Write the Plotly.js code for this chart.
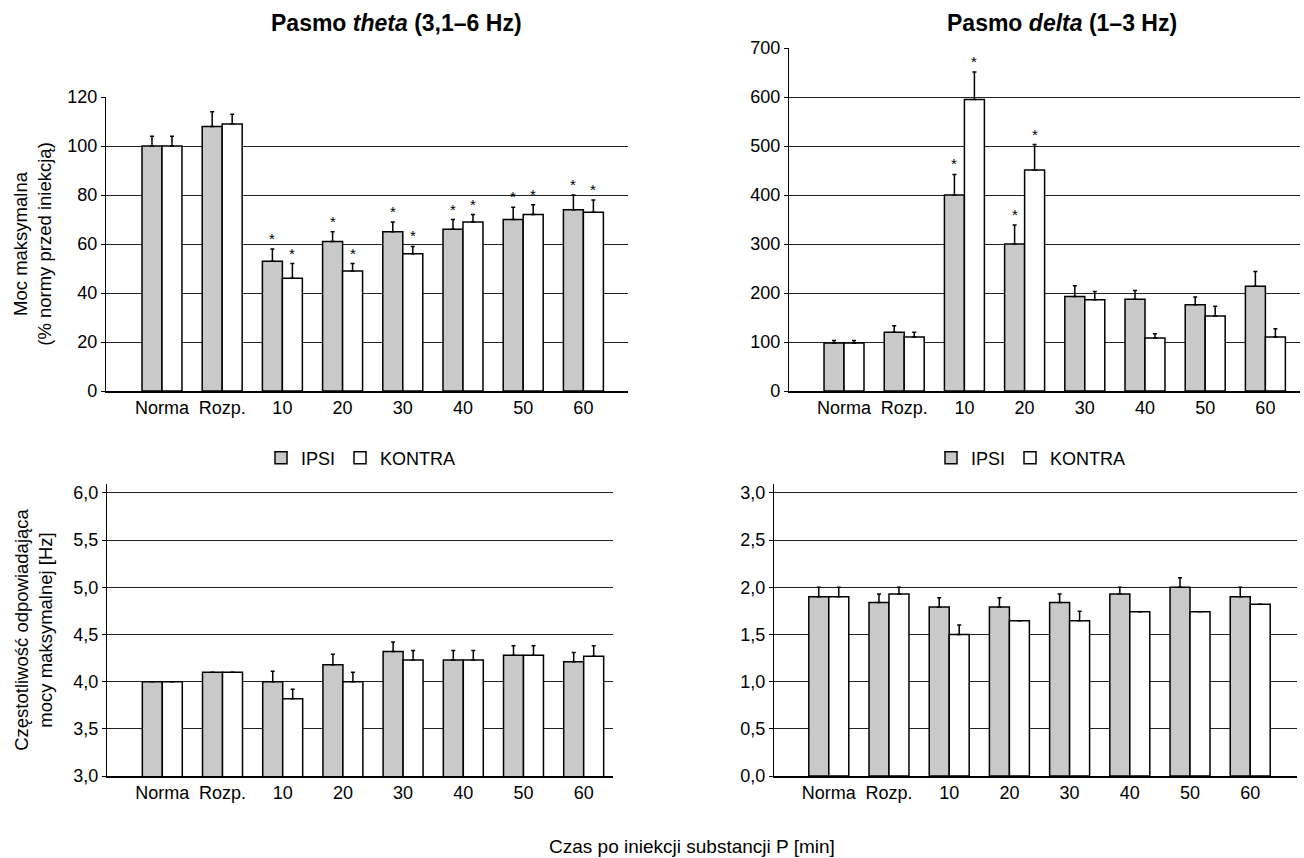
<!DOCTYPE html>
<html>
<head>
<meta charset="utf-8">
<script src="https://cdn.plot.ly/plotly-3.0.1.min.js"></script>
<style>
  html, body { margin: 0; padding: 0; background: #ffffff; }
  #chart { width: 1304px; height: 858px; }
</style>
</head>
<body>
<div id="chart"></div>
<script>
// ---------- data ----------
const categories = ['Norma', 'Rozp.', '10', '20', '30', '40', '50', '60'];
const seriesNames = ['IPSI', 'KONTRA'];

// Pasmo theta – moc maksymalna (% normy)
const thetaPowerIpsi       = [100, 108, 53, 61, 65, 66, 70, 74];
const thetaPowerIpsiErr    = [4, 6, 5, 4, 4, 4, 5, 6];
const thetaPowerKontra     = [100, 109, 46, 49, 56, 69, 72, 73];
const thetaPowerKontraErr  = [4, 4, 6, 3, 3, 3, 4, 5];
const thetaPowerIpsiSig    = [0, 0, 1, 1, 1, 1, 1, 1];
const thetaPowerKontraSig  = [0, 0, 1, 1, 1, 1, 1, 1];

// Pasmo delta – moc maksymalna (% normy)
const deltaPowerIpsi       = [98, 120, 400, 300, 193, 187, 176, 214];
const deltaPowerIpsiErr    = [5, 13, 42, 39, 22, 18, 16, 30];
const deltaPowerKontra     = [98, 110, 595, 451, 186, 108, 153, 110];
const deltaPowerKontraErr  = [5, 10, 56, 52, 17, 9, 20, 17];
const deltaPowerIpsiSig    = [0, 0, 1, 1, 0, 0, 0, 0];
const deltaPowerKontraSig  = [0, 0, 1, 1, 0, 0, 0, 0];

// Pasmo theta – częstotliwość mocy maksymalnej [Hz]
const thetaFreqIpsi        = [4.00, 4.10, 4.00, 4.18, 4.32, 4.23, 4.28, 4.21];
const thetaFreqIpsiErr     = [0, 0, 0.11, 0.11, 0.10, 0.10, 0.10, 0.10];
const thetaFreqKontra      = [4.00, 4.10, 3.82, 4.00, 4.23, 4.23, 4.28, 4.27];
const thetaFreqKontraErr   = [0, 0, 0.10, 0.10, 0.10, 0.10, 0.10, 0.11];

// Pasmo delta – częstotliwość mocy maksymalnej [Hz]
const deltaFreqIpsi        = [1.90, 1.84, 1.79, 1.79, 1.84, 1.93, 2.00, 1.90];
const deltaFreqIpsiErr     = [0.10, 0.09, 0.10, 0.10, 0.09, 0.07, 0.10, 0.10];
const deltaFreqKontra      = [1.90, 1.93, 1.50, 1.645, 1.645, 1.74, 1.74, 1.82];
const deltaFreqKontraErr   = [0.10, 0.07, 0.10, 0, 0.10, 0, 0, 0];

// ---------- styles ----------
const FONT = '"Liberation Sans", Arial, Helvetica, sans-serif';
const GRAY = '#c9c9c9';
const W = 1304, H = 858;
const px = v => v / W;
const py = v => 1 - v / H;

function barTrace(name, y, err, xa, ya, color, legend, showlegend) {
  return {
    type: 'bar', name: name, x: categories, y: y,
    xaxis: xa, yaxis: ya,
    marker: { color: color, line: { color: '#000000', width: 1.5 } },
    error_y: { type: 'data', symmetric: false, array: err, arrayminus: err.map(() => 0),
               color: '#000000', thickness: 1.5, width: 2 },
    legend: legend, showlegend: showlegend, hoverinfo: 'skip'
  };
}

const data = [
  barTrace(seriesNames[0], thetaPowerIpsi, thetaPowerIpsiErr, 'x', 'y', GRAY, 'legend', true),
  barTrace(seriesNames[1], thetaPowerKontra, thetaPowerKontraErr, 'x', 'y', '#ffffff', 'legend', true),
  barTrace(seriesNames[0], deltaPowerIpsi, deltaPowerIpsiErr, 'x2', 'y2', GRAY, 'legend2', true),
  barTrace(seriesNames[1], deltaPowerKontra, deltaPowerKontraErr, 'x2', 'y2', '#ffffff', 'legend2', true),
  barTrace(seriesNames[0], thetaFreqIpsi, thetaFreqIpsiErr, 'x3', 'y3', GRAY, 'legend', false),
  barTrace(seriesNames[1], thetaFreqKontra, thetaFreqKontraErr, 'x3', 'y3', '#ffffff', 'legend', false),
  barTrace(seriesNames[0], deltaFreqIpsi, deltaFreqIpsiErr, 'x4', 'y4', GRAY, 'legend2', false),
  barTrace(seriesNames[1], deltaFreqKontra, deltaFreqKontraErr, 'x4', 'y4', '#ffffff', 'legend2', false)
];

function xAxis(domain, range, anchor) {
  return {
    domain: domain, range: range, anchor: anchor, type: 'category',
    showline: true, linecolor: '#000000', linewidth: 1.5,
    showgrid: false, zeroline: false, ticks: '', fixedrange: true,
    tickfont: { family: FONT, size: 18, color: '#000000' }
  };
}
function yAxis(domain, range, dtick, t0, fmt, anchor, title, standoff) {
  const a = {
    domain: domain, range: range, anchor: anchor, dtick: dtick, tick0: t0,
    tickformat: fmt,
    showline: true, linecolor: '#000000', linewidth: 1.2,
    showgrid: true, gridcolor: '#222222', gridwidth: 1,
    zeroline: false, ticks: 'outside', ticklen: 4, tickcolor: '#000000', tickwidth: 1,
    fixedrange: true,
    tickfont: { family: FONT, size: 18, color: '#000000' }
  };
  if (title) {
    a.title = { text: title, standoff: standoff, font: { family: FONT, size: 18.5, color: '#000000' } };
  }
  return a;
}

const annotations = [];
function addStars(sig, vals, errs, xref, yref, shift) {
  sig.forEach((s, i) => {
    if (!s) return;
    annotations.push({
      x: i, y: vals[i] + errs[i], xref: xref, yref: yref,
      xshift: shift, yshift: 0, yanchor: 'bottom', showarrow: false, text: '*',
      font: { family: FONT, size: 15, color: '#000000' }
    });
  });
}
addStars(thetaPowerIpsiSig, thetaPowerIpsi, thetaPowerIpsiErr, 'x', 'y', -10);
addStars(thetaPowerKontraSig, thetaPowerKontra, thetaPowerKontraErr, 'x', 'y', 10);
addStars(deltaPowerIpsiSig, deltaPowerIpsi, deltaPowerIpsiErr, 'x2', 'y2', -10);
addStars(deltaPowerKontraSig, deltaPowerKontra, deltaPowerKontraErr, 'x2', 'y2', 10);

annotations.push(
  { text: '<b>Pasmo <i>theta</i> (3,1–6 Hz)</b>', x: px(396), y: py(23), xref: 'paper', yref: 'paper',
    xanchor: 'center', yanchor: 'middle', showarrow: false, font: { family: FONT, size: 23, color: '#000000' } },
  { text: '<b>Pasmo <i>delta</i> (1–3 Hz)</b>', x: px(1062), y: py(23), xref: 'paper', yref: 'paper',
    xanchor: 'center', yanchor: 'middle', showarrow: false, font: { family: FONT, size: 23, color: '#000000' } },
  { text: 'Czas po iniekcji substancji P [min]', x: px(692), y: py(846), xref: 'paper', yref: 'paper',
    xanchor: 'center', yanchor: 'middle', showarrow: false, font: { family: FONT, size: 19, color: '#000000' } }
);

const legendCommon = {
  orientation: 'h', xanchor: 'center', yanchor: 'middle', bgcolor: 'rgba(0,0,0,0)',
  font: { family: FONT, size: 18, color: '#000000' }, itemwidth: 30, traceorder: 'normal'
};

const layout = {
  width: W, height: H,
  margin: { l: 0, r: 0, t: 0, b: 0 },
  paper_bgcolor: '#ffffff', plot_bgcolor: '#ffffff',
  separators: ', ',
  barmode: 'group', bargap: 0.336, bargroupgap: 0,
  font: { family: FONT, color: '#000000' },
  xaxis:  xAxis([px(106), px(628)], [-0.93, 7.741], 'y'),
  yaxis:  yAxis([py(391), py(97)], [0, 120], 20, 0, 'd', 'x', 'Moc maksymalna<br>(% normy przed iniekcją)', 10),
  xaxis2: xAxis([px(789), px(1300)], [-0.914, 7.575], 'y2'),
  yaxis2: yAxis([py(391), py(48)], [0, 700], 100, 0, 'd', 'x2', null, 0),
  xaxis3: xAxis([px(107), px(613)], [-0.919, 7.487], 'y3'),
  yaxis3: yAxis([py(776), py(484)], [3, 6.095], 0.5, 3, '.1f', 'x3', 'Częstotliwość odpowiadająca<br>mocy maksymalnej [Hz]', 15),
  xaxis4: xAxis([px(774), px(1297)], [-0.910, 7.777], 'y4'),
  yaxis4: yAxis([py(776), py(484)], [0, 3.095], 0.5, 0, '.1f', 'x4', null, 0),
  legend:  Object.assign({}, legendCommon, { x: px(361), y: py(458) }),
  legend2: Object.assign({}, legendCommon, { x: px(1031), y: py(458) }),
  annotations: annotations,
  showlegend: true
};

Plotly.newPlot('chart', data, layout, { displayModeBar: false, staticPlot: true });
</script>
</body>
</html>
